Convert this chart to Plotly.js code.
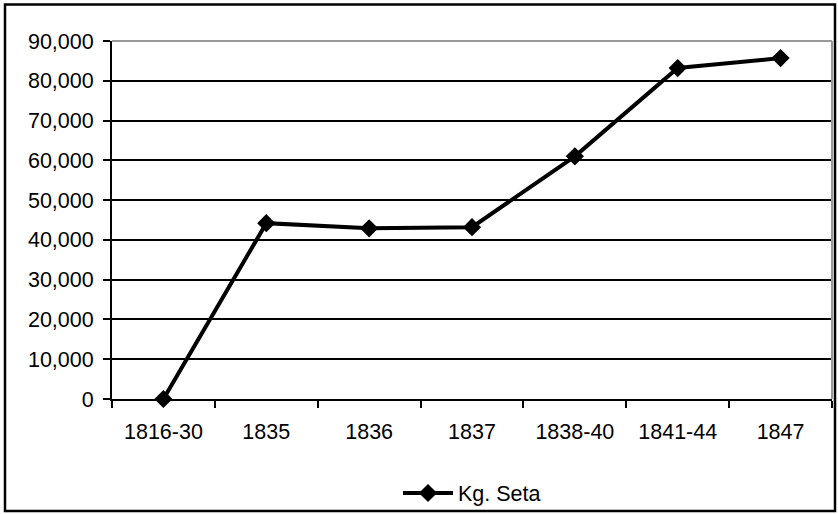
<!DOCTYPE html>
<html>
<head>
<meta charset="utf-8">
<script src="https://cdn.plot.ly/plotly-3.0.1.min.js"></script>
<style>
html, body { margin: 0; padding: 0; background: #fff; }
#chart { width: 838px; height: 514px; }
</style>
</head>
<body>
<div id="chart"></div>
<script>
const categories = ["1816-30", "1835", "1836", "1837", "1838-40", "1841-44", "1847"];
const kgSeta = [0, 44200, 42900, 43200, 61000, 83200, 85700];
const seriesName = "Kg. Seta";
const yTicks = [0, 10000, 20000, 30000, 40000, 50000, 60000, 70000, 80000, 90000];

const font = { family: "Liberation Sans, Arial, sans-serif", size: 21.5, color: "#000" };

const trace = {
  x: categories,
  y: kgSeta,
  name: seriesName,
  type: "scatter",
  mode: "lines+markers",
  line: { color: "#000", width: 4 },
  marker: { symbol: "diamond", size: 14, color: "#000" },
  cliponaxis: false
};

const layout = {
  width: 838,
  height: 514,
  margin: { l: 112, r: 6, t: 41, b: 115, autoexpand: false },
  paper_bgcolor: "#fff",
  plot_bgcolor: "#fff",
  font: font,
  showlegend: true,
  legend: {
    orientation: "h",
    x: 0.5, xanchor: "center",
    y: (399 - 493) / 358, yanchor: "middle",
    font: font,
    bgcolor: "rgba(0,0,0,0)",
    itemwidth: 50
  },
  xaxis: {
    type: "category",
    range: [-0.5, 6.5],
    showgrid: false,
    zeroline: false,
    showline: true,
    linecolor: "#000",
    linewidth: 2,
    ticks: "outside",
    tickson: "boundaries",
    ticklen: 7,
    tickwidth: 2,
    tickcolor: "#000",
    tickfont: font,
    ticklabelstandoff: 12,
    fixedrange: true
  },
  yaxis: {
    range: [0, 90000],
    tickvals: yTicks,
    tickformat: ",",
    showgrid: true,
    gridcolor: "#000",
    gridwidth: 2,
    zeroline: false,
    showline: true,
    linecolor: "#000",
    linewidth: 2,
    ticks: "outside",
    ticklen: 7,
    tickwidth: 2,
    tickcolor: "#000",
    tickfont: font,
    ticklabelstandoff: 5,
    fixedrange: true
  },
  shapes: [
    { type: "line", xref: "paper", yref: "paper", x0: 0, x1: 1, y0: 1, y1: 1,
      line: { color: "#999", width: 2 }, layer: "above" },
    { type: "line", xref: "paper", yref: "paper", x0: 1, x1: 1, y0: 0, y1: 1,
      line: { color: "#999", width: 2 }, layer: "above" },
    { type: "rect", xref: "paper", yref: "paper",
      x0: (5 - 112) / 720, x1: (835 - 112) / 720,
      y0: (399 - 511) / 358, y1: (399 - 4.5) / 358,
      line: { color: "#000", width: 2.5 }, fillcolor: "rgba(0,0,0,0)", layer: "above" }
  ]
};

Plotly.newPlot("chart", [trace], layout, { displayModeBar: false, staticPlot: true });
</script>
</body>
</html>
